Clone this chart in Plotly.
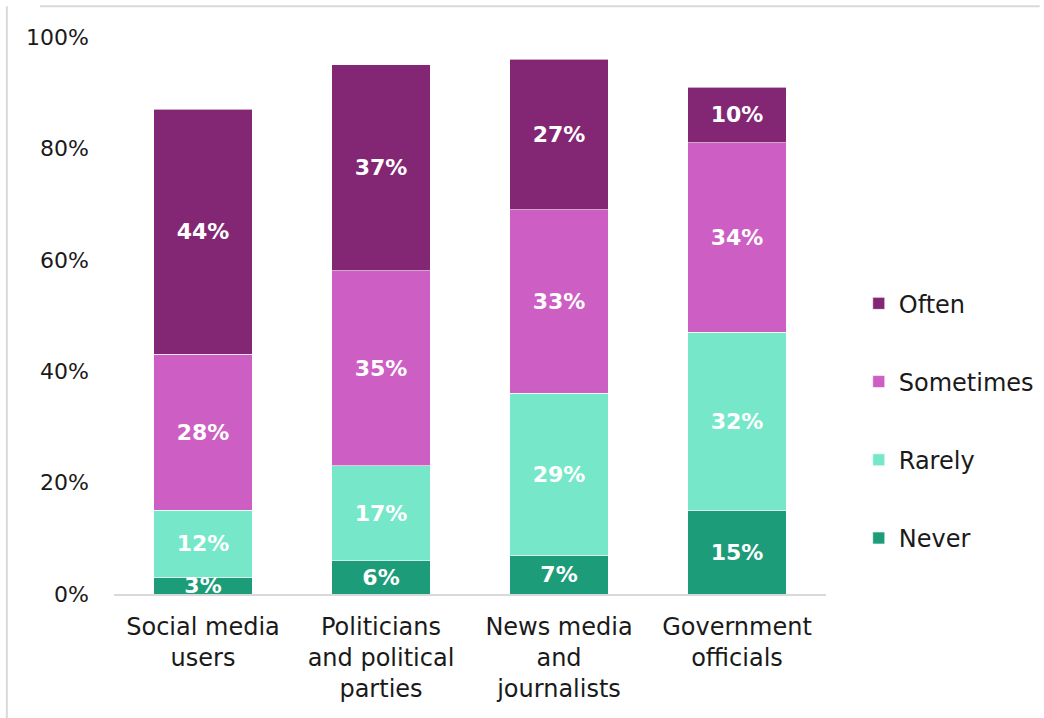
import plotly.graph_objects as go

categories = [
    "Social media<br>users",
    "Politicians<br>and political<br>parties",
    "News media<br>and<br>journalists",
    "Government<br>officials",
]
never = [3, 6, 7, 15]
rarely = [12, 17, 29, 32]
sometimes = [28, 35, 33, 34]
often = [44, 37, 27, 10]
tick_values = [0, 20, 40, 60, 80, 100]
tick_labels = ["0%", "20%", "40%", "60%", "80%", "100%"]

# stacked bottom-to-top; legend lists them top-to-bottom
series = [
    ("Never", never, "#1D9C79", 4),
    ("Rarely", rarely, "#76E8C9", 3),
    ("Sometimes", sometimes, "#CD5FC4", 2),
    ("Often", often, "#832774", 1),
]

FONT = "DejaVu Sans, sans-serif"
TEXT = "#1a1a1a"

fig = go.Figure()
for name, vals, color, rank in series:
    fig.add_trace(go.Bar(
        name=name,
        x=categories,
        y=vals,
        legendgroup=name,
        legendrank=rank,
        marker=dict(color=color, line=dict(color="rgba(255,255,255,0.6)", width=1)),
        text=[f"{v}%" for v in vals],
        textposition="inside",
        insidetextanchor="middle",
        constraintext="none",
        textfont=dict(family=FONT, size=22, color="white", weight="bold"),
        hoverinfo="skip",
    ))

fig.update_layout(
    barmode="stack",
    bargap=0.444,
    width=1044,
    height=718,
    margin=dict(l=114, r=218, t=37, b=124, autoexpand=False),
    paper_bgcolor="white",
    plot_bgcolor="white",
    font=dict(family=FONT, size=24, color=TEXT),
    showlegend=True,
    legend=dict(
        traceorder="grouped",
        tracegroupgap=44,
        x=1.046, xanchor="left",
        y=0.311, yanchor="middle",
        font=dict(family=FONT, size=24, color=TEXT),
        itemwidth=30,
    ),
    xaxis=dict(
        showline=True, linecolor="#d9d9d9", linewidth=2,
        ticks="", ticklabelstandoff=10,
        tickfont=dict(family=FONT, size=24, color=TEXT),
        showgrid=False,
    ),
    yaxis=dict(
        range=[0, 100],
        tickvals=tick_values,
        ticktext=tick_labels,
        showgrid=False, showline=False, zeroline=False,
        ticks="", ticklabelstandoff=24,
        tickfont=dict(family=FONT, size=22, color=TEXT),
    ),
    shapes=[
        dict(type="line", xref="paper", yref="paper", x0=-0.104, x1=1.3, y0=1.055, y1=1.055,
             line=dict(color="#d9d9d9", width=2)),
        dict(type="line", xref="paper", yref="paper", x0=-0.1505, x1=-0.1505, y0=-0.3, y1=1.055,
             line=dict(color="#d9d9d9", width=2)),
    ],
)

fig.write_html("out.html")
